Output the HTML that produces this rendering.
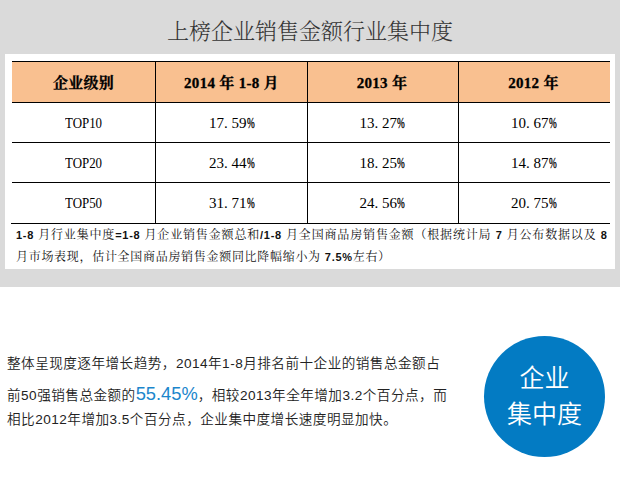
<!DOCTYPE html>
<html lang="zh-CN">
<head>
<meta charset="utf-8">
<title>上榜企业销售金额行业集中度</title>
<style>
html,body{margin:0;padding:0;}
body{width:620px;height:492px;background:#fff;position:relative;overflow:hidden;font-family:"Liberation Sans","Noto Sans CJK SC",sans-serif;}
#top{position:absolute;left:0;top:0;width:620px;height:287px;background:#dadada;}
#title{position:absolute;left:0;top:17px;width:620px;text-align:center;font-family:"Liberation Serif","Noto Serif CJK SC",serif;font-size:22px;line-height:30px;color:#333;font-weight:300;}
#panel{position:absolute;left:5px;top:54px;width:610px;height:215px;background:#fff;}
.hl{position:absolute;left:12px;width:598px;height:1px;background:#000;}
.vl{position:absolute;top:61px;width:1px;height:162px;background:#000;}
#hd{position:absolute;left:12px;top:62px;width:598px;height:40px;background:#f9c090;}
.c{position:absolute;text-align:center;font-family:"Liberation Serif","Noto Serif CJK SC",serif;font-size:15px;line-height:40px;height:40px;color:#000;white-space:nowrap;}
.c1{left:12px;width:143px;}
.c2{left:156px;width:151px;}
.c3{left:307px;width:150px;}
.c4{left:458px;width:151px;}
.h{top:63px;font-weight:bold;letter-spacing:0.3px;-webkit-text-stroke:0.3px #000;}
.r1{top:103px;}
.r2{top:143px;}
.r3{top:183px;}
.sq{display:inline-block;transform:scaleX(0.86);}
.d{display:inline-block;width:7.5px;text-align:left;}
.pc{display:inline-block;width:7.5px;text-align:left;}
.pc i{display:inline-block;font-style:normal;transform:scaleX(0.62);transform-origin:0 50%;-webkit-text-stroke:0.35px #000;}
#note{position:absolute;left:16px;top:225px;width:591.5px;font-family:"Liberation Sans","Noto Serif CJK SC",serif;font-size:12px;letter-spacing:0.7px;line-height:21px;color:#111;}
#note .l1{text-align:justify;text-align-last:justify;white-space:nowrap;}
#note b{font-weight:bold;font-size:11px;}
#note .l2{position:relative;top:1px;}
.p{position:absolute;left:7px;font-size:13.6px;letter-spacing:0.48px;line-height:24px;color:#222;white-space:nowrap;font-weight:350;}
.big{color:#1b86cc;font-size:18.3px;letter-spacing:0;}
#circle{position:absolute;left:484px;top:336px;width:121px;height:121px;border-radius:50%;background:#037bc3;color:#fff;font-weight:350;text-align:center;font-size:25px;line-height:36px;}
#circle div{padding-top:24px;}
</style>
</head>
<body>
<div id="top">
  <div id="title">上榜企业销售金额行业集中度</div>
  <div id="panel"></div>
  <div id="hd"></div>
  <div class="hl" style="top:61px"></div>
  <div class="hl" style="top:102px"></div>
  <div class="hl" style="top:142px"></div>
  <div class="hl" style="top:182px"></div>
  <div class="hl" style="top:223px;left:11px;width:599px"></div>
  <div class="vl" style="left:155px"></div>
  <div class="vl" style="left:307px"></div>
  <div class="vl" style="left:458px"></div>

  <div class="c c1 h">企业级别</div>
  <div class="c c2 h">2014 年 1-8 月</div>
  <div class="c c3 h">2013 年</div>
  <div class="c c4 h">2012 年</div>

  <div class="c c1 r1"><span class="sq">TOP10</span></div>
  <div class="c c2 r1">17<span class="d">.</span>59<span class="pc"><i>%</i></span></div>
  <div class="c c3 r1">13<span class="d">.</span>27<span class="pc"><i>%</i></span></div>
  <div class="c c4 r1">10<span class="d">.</span>67<span class="pc"><i>%</i></span></div>

  <div class="c c1 r2"><span class="sq">TOP20</span></div>
  <div class="c c2 r2">23<span class="d">.</span>44<span class="pc"><i>%</i></span></div>
  <div class="c c3 r2">18<span class="d">.</span>25<span class="pc"><i>%</i></span></div>
  <div class="c c4 r2">14<span class="d">.</span>87<span class="pc"><i>%</i></span></div>

  <div class="c c1 r3"><span class="sq">TOP50</span></div>
  <div class="c c2 r3">31<span class="d">.</span>71<span class="pc"><i>%</i></span></div>
  <div class="c c3 r3">24<span class="d">.</span>56<span class="pc"><i>%</i></span></div>
  <div class="c c4 r3">20<span class="d">.</span>75<span class="pc"><i>%</i></span></div>

  <div id="note"><div class="l1"><b>1-8</b> 月行业集中度<b>=1-8</b> 月企业销售金额总和<b>/1-8</b> 月全国商品房销售金额（根据统计局 <b>7</b> 月公布数据以及 <b>8</b></div><div class="l2">月市场表现，估计全国商品房销售金额同比降幅缩小为 <b>7.5%</b>左右）</div></div>
</div>
<div class="p" style="top:352px">整体呈现度逐年增长趋势，2014年1-8月排名前十企业的销售总金额占</div>
<div class="p" style="top:382px">前50强销售总金额的<span class="big">55.45%</span>，相较2013年全年增加3.2个百分点，而</div>
<div class="p" style="top:408px">相比2012年增加3.5个百分点，企业集中度增长速度明显加快。</div>
<div id="circle"><div>企业<br>集中度</div></div>
</body>
</html>
